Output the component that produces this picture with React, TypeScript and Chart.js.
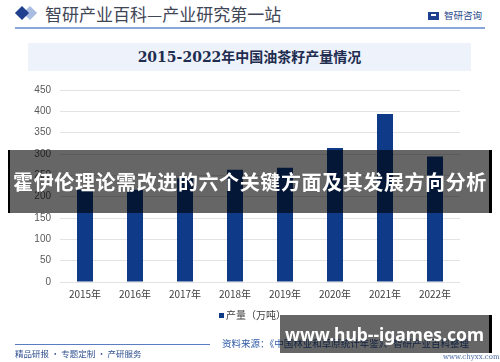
import React, { useEffect, useRef } from "react";
import { Chart, registerables } from "chart.js";

Chart.register(...registerables);

const categories = ["2015年", "2016年", "2017年", "2018年", "2019年", "2020年", "2021年", "2022年"];
const production = [216, 216, 243, 263, 268, 314, 394, 294];
const yTicks = [0, 50, 100, 150, 200, 250, 300, 350, 400, 450];
const seriesName = "产量（万吨）";
const chartTitle = "2015-2022年中国油茶籽产量情况";
const headerText = "智研产业百科—产业研究第一站";
const brandText = "智研咨询";
const footerLeft = "精品研报 · 专题定制 · 产研服务";
const sourceText = "资料来源：《中国林业和草原统计年鉴》、智研产业百科整理";
const siteText = "www.chyxx.com";
const bannerText = "霍伊伦理论需改进的六个关键方面及其发展方向分析";
const boxText = "www.hub--igames.com";

const BAR = "#0e3a87";
const CJK = '"Noto Sans CJK SC", "Liberation Sans", sans-serif';

export default function App() {
  const ref = useRef<HTMLCanvasElement | null>(null);

  useEffect(() => {
    if (!ref.current) return;
    const chart = new Chart(ref.current, {
      type: "bar",
      data: {
        labels: categories,
        datasets: [
          {
            label: seriesName,
            data: production,
            backgroundColor: BAR,
            borderWidth: 0,
            barPercentage: 0.32,
            categoryPercentage: 1,
          },
        ],
      },
      options: {
        animation: false,
        responsive: false,
        maintainAspectRatio: false,
        layout: { padding: { top: 90, left: 0, right: 40, bottom: 58 } },
        plugins: { legend: { display: false }, tooltip: { enabled: false }, title: { display: false } },
        scales: {
          x: {
            grid: { display: false, drawTicks: false },
            border: { display: false },
            ticks: {
              color: "#404040",
              padding: 6,
              font: { family: CJK, size: 10 },
              maxRotation: 0,
            },
            afterFit: (s: any) => {
              s.height = 22;
            },
          },
          y: {
            min: 0,
            max: 450,
            afterBuildTicks: (s: any) => {
              s.ticks = yTicks.map((v) => ({ value: v }));
            },
            grid: { color: "#e3e3e3", lineWidth: 1, drawTicks: false },
            border: { display: false },
            ticks: {
              color: "#595959",
              padding: 9,
              font: { family: '"Liberation Sans", Arial, sans-serif', size: 10 },
            },
            afterFit: (s: any) => {
              s.width = 60;
            },
          },
        },
      },
    });
    return () => chart.destroy();
  }, []);

  const abs = (o: React.CSSProperties): React.CSSProperties => ({ position: "absolute", ...o });

  return (
    <div style={{ position: "absolute", left: 0, top: 0, width: 500, height: 362, background: "#fff", overflow: "hidden", fontFamily: CJK }}>
      {/* header */}
      <div style={abs({ left: 19, top: 8, width: 10, height: 10, background: "#a9bde3", transform: "translateX(6px) rotate(45deg)" })} />
      <div style={abs({ left: 17, top: 8, width: 10, height: 10, background: "#1f3f8f", transform: "rotate(45deg)" })} />
      <div style={abs({ left: 45, top: 2, fontSize: 17, lineHeight: "24px", color: "#3f4656", whiteSpace: "nowrap", letterSpacing: 0 })}>{headerText}</div>
      <div style={abs({ left: 428, top: 12, width: 11, height: 8, background: "#1f3f8f" })} />
      <div style={abs({ left: 431, top: 14, width: 5, height: 2, background: "#fff" })} />
      <div style={abs({ left: 444, top: 8, fontSize: 9.5, lineHeight: "14px", color: "#2a4a8a", whiteSpace: "nowrap" })}>{brandText}</div>
      <div style={abs({ left: 15, top: 27, width: 470, height: 1.5, background: "#8ba7d9" })} />
      {/* title box */}
      <div style={abs({ left: 28, top: 43, width: 443, height: 28, background: "#edf2fb" })} />
      <div style={abs({ left: 28, top: 43, width: 443, height: 28, lineHeight: "28px", textAlign: "center", fontSize: 14, fontWeight: 700, color: "#1f2d50", fontFamily: '"DejaVu Serif", "Noto Sans CJK SC", serif', whiteSpace: "nowrap" })}>{chartTitle}</div>
      <canvas ref={ref} width={500} height={362} style={abs({ left: 0, top: 0, width: 500, height: 362 })} />
      {/* legend */}
      <div style={abs({ left: 219, top: 313, width: 5, height: 5, background: BAR })} />
      <div style={abs({ left: 226, top: 308, fontSize: 10, lineHeight: "14px", color: "#404040", whiteSpace: "nowrap" })}>{seriesName}</div>
      {/* footer */}
      <div style={abs({ left: 15, top: 344, width: 195, height: 1, background: "#5a7cc0" })} />
      <div style={abs({ left: 15, top: 347, fontSize: 8.5, lineHeight: "12px", color: "#2f4f8f", whiteSpace: "nowrap" })}>{footerLeft}</div>
      <div style={abs({ left: 222, top: 337, fontSize: 9.5, lineHeight: "13px", color: "#2f5aa6", whiteSpace: "nowrap" })}>{sourceText}</div>
      <div style={abs({ left: 443, top: 352, fontSize: 7, lineHeight: "10px", color: "#4a6aa0", fontFamily: '"DejaVu Serif", serif', whiteSpace: "nowrap" })}>{siteText}</div>
      {/* overlays */}
      <div style={abs({ left: 8, top: 150, width: 484, height: 63, boxSizing: "border-box", background: "rgba(0,0,0,0.6)", borderLeft: "2px solid #000", borderRight: "3px solid #000" })} />
      <div style={abs({ left: 8, top: 150, width: 484, height: 63, lineHeight: "63px", textAlign: "center", fontSize: 20, fontWeight: 700, letterSpacing: 0.6, color: "#fff", whiteSpace: "nowrap" })}>{bannerText}</div>
      <div style={abs({ left: 280, top: 315, width: 212, height: 38, boxSizing: "border-box", background: "rgba(0,0,0,0.6)", borderRight: "3px solid #000" })} />
      <div style={abs({ left: 280, top: 315, width: 209, height: 38, lineHeight: "38px", textAlign: "center", fontSize: 17.5, fontWeight: 700, color: "#fff", whiteSpace: "nowrap", fontFamily: '"Noto Sans", "Open Sans", sans-serif' })}>{boxText}</div>
    </div>
  );
}
